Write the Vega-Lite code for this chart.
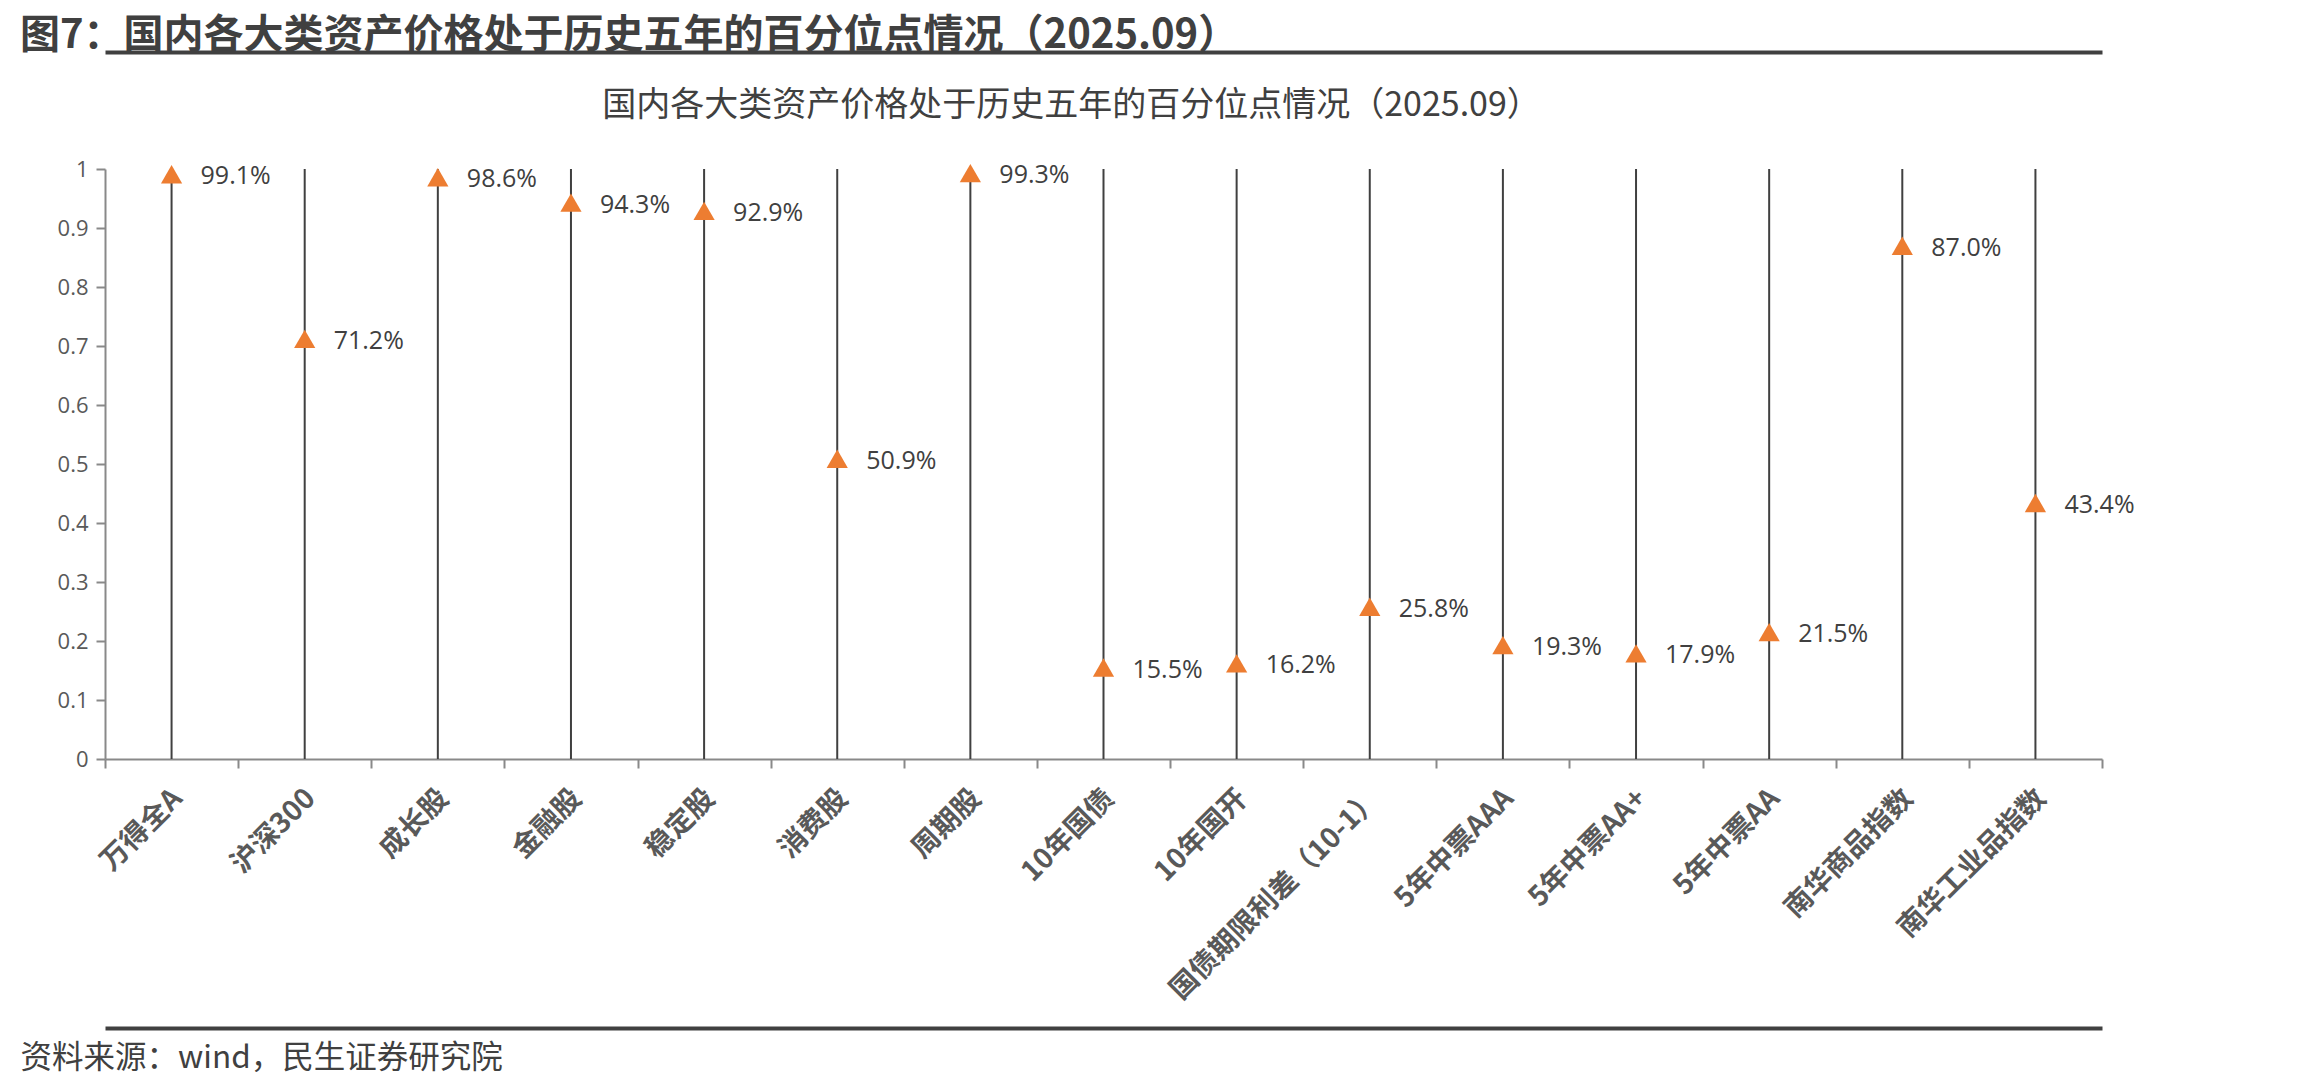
{
  "$schema": "https://vega.github.io/schema/vega-lite/v6.json",
  "width": 1997,
  "height": 590,
  "autosize": {"type": "none"},
  "padding": {"left": 105, "top": 169, "right": 208, "bottom": 331},
  "background": "white",
  "config": {"view": {"stroke": null}},
  "title": {
    "text": "图7：国内各大类资产价格处于历史五年的百分位点情况（2025.09）",
    "anchor": "start",
    "frame": "group",
    "dx": -85,
    "dy": 48,
    "offset": 4,
    "baseline": "bottom",
    "font": "Noto Sans CJK SC",
    "fontSize": 40,
    "fontWeight": "bold",
    "color": "#404040"
  },
  "data": {
    "values": [
      {"cat": "万得全A", "v": 0.991},
      {"cat": "沪深300", "v": 0.712},
      {"cat": "成长股", "v": 0.986},
      {"cat": "金融股", "v": 0.943},
      {"cat": "稳定股", "v": 0.929},
      {"cat": "消费股", "v": 0.509},
      {"cat": "周期股", "v": 0.993},
      {"cat": "10年国债", "v": 0.155},
      {"cat": "10年国开", "v": 0.162},
      {"cat": "国债期限利差（10-1）", "v": 0.258},
      {"cat": "5年中票AAA", "v": 0.193},
      {"cat": "5年中票AA+", "v": 0.179},
      {"cat": "5年中票AA", "v": 0.215},
      {"cat": "南华商品指数", "v": 0.870},
      {"cat": "南华工业品指数", "v": 0.434}
    ]
  },
  "layer": [
    {
      "mark": {"type": "rule", "color": "#404040", "strokeWidth": 2},
      "encoding": {
        "x": {
          "field": "cat", "type": "nominal", "sort": null,
          "scale": {"type": "band", "paddingInner": 0, "paddingOuter": 0},
          "axis": {
            "orient": "bottom",
            "title": null,
            "labelAngle": -45,
            "labelAlign": "right",
            "labelBaseline": "middle",
            "labelFont": "Noto Sans CJK SC",
            "labelFontSize": 28,
            "labelFontWeight": "bold",
            "labelColor": "#595959",
            "labelPadding": 26,
            "labelLimit": 500,
            "labelOffset": 6,
            "tickBand": "extent",
            "tickSize": 9,
            "tickColor": "#898989",
            "tickWidth": 2,
            "domainColor": "#898989",
            "domainWidth": 2,
            "grid": false
          }
        },
        "y": {
          "datum": 0, "type": "quantitative",
          "scale": {"domain": [0, 1], "nice": false},
          "axis": {
            "title": null,
            "values": [0, 0.1, 0.2, 0.3, 0.4, 0.5, 0.6, 0.7, 0.8, 0.9, 1],
            "format": "~g",
            "labelFont": "Open Sans",
            "labelFontSize": 22,
            "labelColor": "#595959",
            "labelPadding": 8,
            "tickSize": 9,
            "tickColor": "#898989",
            "tickWidth": 2,
            "domainColor": "#898989",
            "domainWidth": 2,
            "gridColor": "#D9D9D9",
            "gridWidth": 2
          }
        },
        "y2": {"datum": 1}
      }
    },
    {
      "mark": {"type": "point", "shape": "triangle-up", "filled": true, "size": 450, "color": "#ED7D31", "opacity": 1, "strokeWidth": 0},
      "encoding": {
        "x": {
          "field": "cat", "type": "nominal", "sort": null,
          "axis": {
            "orient": "top",
            "offset": 117,
            "labels": false,
            "ticks": false,
            "grid": false,
            "domain": true,
            "domainColor": "#404040",
            "domainWidth": 4,
            "title": "国内各大类资产价格处于历史五年的百分位点情况（2025.09）",
            "titleFont": "Noto Sans CJK SC",
            "titleFontSize": 34,
            "titleFontWeight": "normal",
            "titleColor": "#404040",
            "titleX": 966,
            "titleY": 53,
            "titleAlign": "center",
            "titleBaseline": "middle"
          }
        },
        "y": {"field": "v", "type": "quantitative", "title": null}
      }
    },
    {
      "mark": {"type": "text", "align": "left", "baseline": "middle", "dx": 29, "dy": 2, "font": "Open Sans", "fontSize": 25, "color": "#404040"},
      "encoding": {
        "x": {
          "field": "cat", "type": "nominal", "sort": null,
          "axis": {
            "orient": "bottom",
            "offset": 269,
            "labels": false,
            "ticks": false,
            "grid": false,
            "domain": true,
            "domainColor": "#404040",
            "domainWidth": 4,
            "title": "资料来源：wind，民生证券研究院",
            "titleFont": "Noto Sans CJK SC",
            "titleFontSize": 31.5,
            "titleFontWeight": "normal",
            "titleColor": "#404040",
            "titleX": -85,
            "titleY": 30,
            "titleAlign": "left",
            "titleBaseline": "middle"
          }
        },
        "y": {"field": "v", "type": "quantitative", "title": null},
        "text": {"field": "v", "type": "quantitative", "format": ".1%"}
      }
    }
  ],
  "resolve": {"axis": {"x": "independent"}}
}
